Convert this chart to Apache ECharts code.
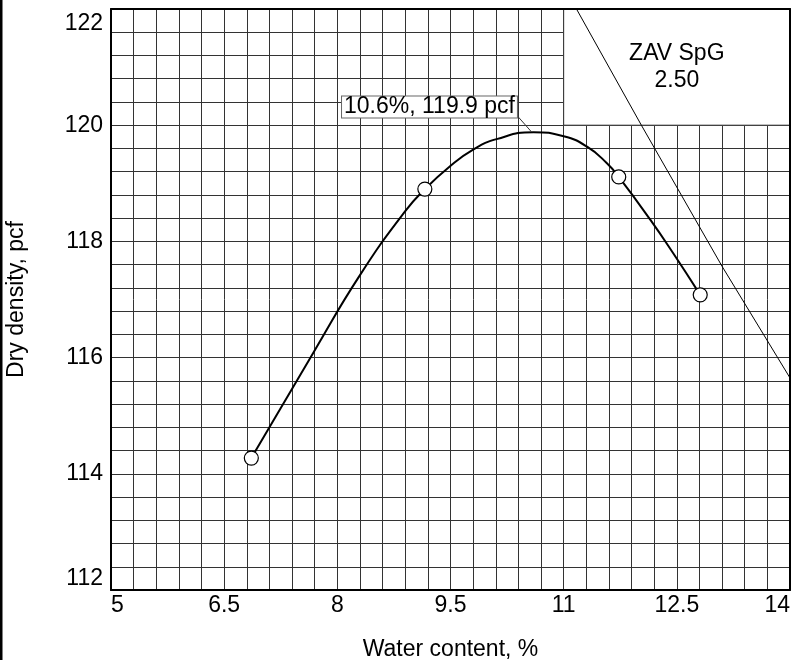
<!DOCTYPE html>
<html>
<head>
<meta charset="utf-8">
<script src="https://cdn.jsdelivr.net/npm/echarts@6/dist/echarts.min.js"></script>
<style>
html,body{margin:0;padding:0;background:#fff;}
#chart{width:791px;height:660px;}
</style>
</head>
<body>
<div id="chart"></div>
<script>
// ---- data ----
const xTickLabels = [5, 6.5, 8, 9.5, 11, 12.5, 14];
const yTickLabels = [112, 114, 116, 118, 120, 122];
const testWater   = [6.86, 9.16, 11.73, 12.81];
const testDensity = [114.27, 118.90, 119.11, 117.08];
const curveWater   = [6.86, 7.68, 8.30, 8.90, 9.16, 9.49, 9.80, 10.11, 10.60, 11.00, 11.31, 11.57, 11.73, 12.15, 12.45, 12.81];
const curveDensity = [114.27, 116.08, 117.42, 118.52, 118.90, 119.29, 119.58, 119.76, 119.88, 119.81, 119.63, 119.35, 119.11, 118.37, 117.80, 117.08];
const zavWater   = [11.17, 12.03, 13.10, 14.0];
const zavDensity = [122.0, 120.0, 117.57, 115.65];
const optimumWater = 10.6;
const optimumDensity = 119.9;
const leaderWater = [10.57, 10.40];
const leaderDensity = [119.89, 120.14];
const zavRegionX = [11, 14];
const zavRegionY = [120, 122];
const zavText = ['ZAV SpG', '2.50'];
const xTitle = 'Water content, %';
const yTitle = 'Dry density, pcf';

const FONT = '"Liberation Sans", Arial, Helvetica, sans-serif';
const FS = 23;
const GRIDC = '#333';
const zip = (a, b) => a.map((v, i) => [v, b[i]]);

const chart = echarts.init(document.getElementById('chart'), null, {renderer: 'canvas'});
const xMin = xTickLabels[0], xMax = xTickLabels[xTickLabels.length - 1];
const yMin = yTickLabels[0], yMax = yTickLabels[yTickLabels.length - 1];

chart.setOption({
  animation: false,
  backgroundColor: '#fff',
  textStyle: {fontFamily: FONT},
  graphic: [{type: 'rect', left: 0, top: 0, shape: {width: 2.5, height: 660}, style: {fill: '#000'}}],
  grid: {left: 111, right: 1, top: 9, bottom: 70, containLabel: false, outerBoundsMode: 'none'},
  xAxis: [{
    type: 'value', min: xMin, max: xMax, interval: xTickLabels[1] - xTickLabels[0],
    name: xTitle, nameLocation: 'middle', nameGap: 48,
    nameTextStyle: {fontSize: FS, color: '#000', fontFamily: FONT},
    axisLine: {show: true, lineStyle: {color: '#000', width: 2}},
    axisTick: {show: false},
    axisLabel: {fontSize: FS, color: '#000', fontFamily: FONT, margin: 4, alignMinLabel: 'left', alignMaxLabel: 'right'},
    splitLine: {show: true, lineStyle: {color: GRIDC, width: 1}},
    minorTick: {show: false, splitNumber: 5},
    minorSplitLine: {show: true, lineStyle: {color: GRIDC, width: 1}}
  }, {
    type: 'value', position: 'top', min: xMin, max: xMax, z: 10,
    axisLine: {show: true, onZero: false, lineStyle: {color: '#000', width: 2}},
    axisTick: {show: false}, axisLabel: {show: false}, splitLine: {show: false}
  }],
  yAxis: [{
    type: 'value', min: yMin, max: yMax, interval: yTickLabels[1] - yTickLabels[0],
    name: yTitle, nameLocation: 'middle', nameGap: 83, nameRotate: 90,
    nameTextStyle: {fontSize: FS, color: '#000', fontFamily: FONT},
    axisLine: {show: true, lineStyle: {color: '#000', width: 2}},
    axisTick: {show: false},
    axisLabel: {fontSize: FS, color: '#000', fontFamily: FONT, margin: 8, padding: [3, 0, 0, 0],
      verticalAlignMinLabel: 'bottom', verticalAlignMaxLabel: 'top'},
    splitLine: {show: true, lineStyle: {color: GRIDC, width: 1}},
    minorTick: {show: false, splitNumber: 5},
    minorSplitLine: {show: true, lineStyle: {color: GRIDC, width: 1}}
  }, {
    type: 'value', position: 'right', min: yMin, max: yMax, z: 10,
    axisLine: {show: true, onZero: false, lineStyle: {color: '#000', width: 2}},
    axisTick: {show: false}, axisLabel: {show: false}, splitLine: {show: false}
  }],
  series: [
    {
      type: 'line', z: 1, data: [], silent: true,
      markArea: {
        silent: true,
        itemStyle: {color: '#fff', borderColor: GRIDC, borderWidth: 1, opacity: 1},
        label: {show: true, position: 'inside', formatter: zavText.join('\n'), fontSize: FS, lineHeight: 27, color: '#000', fontFamily: FONT},
        data: [[{coord: [zavRegionX[0], zavRegionY[0]]}, {coord: [zavRegionX[1], zavRegionY[1]]}]]
      }
    },
    {
      name: 'ZAV', type: 'line', z: 3, showSymbol: false, symbol: 'none',
      data: zip(zavWater, zavDensity),
      lineStyle: {color: '#000', width: 1}
    },
    {
      name: 'curve', type: 'line', z: 4, smooth: 0.5, symbol: 'none',
      data: zip(curveWater, curveDensity),
      lineStyle: {color: '#000', width: 2}
    },
    {
      name: 'leader', type: 'line', z: 4, symbol: 'none',
      data: zip(leaderWater, leaderDensity),
      lineStyle: {color: '#333', width: 1}
    },
    {
      name: 'tests', type: 'scatter', z: 5, symbol: 'circle', symbolSize: 14,
      data: zip(testWater, testDensity),
      itemStyle: {color: '#fff', borderColor: '#000', borderWidth: 1.2, opacity: 1}
    },
    {
      name: 'optimum', type: 'scatter', z: 6, symbolSize: 0,
      data: [[optimumWater, optimumDensity]],
      itemStyle: {opacity: 1},
      label: {
        show: true, position: 'inside', offset: [-104, -24],
        formatter: optimumWater.toFixed(1) + '%, ' + optimumDensity.toFixed(1) + ' pcf',
        fontSize: FS, color: '#000', fontFamily: FONT,
        backgroundColor: '#fff', borderColor: '#666', borderWidth: 1,
        padding: [0, 2, 0, 2], lineHeight: 21
      }
    }
  ]
});
</script>
</body>
</html>
